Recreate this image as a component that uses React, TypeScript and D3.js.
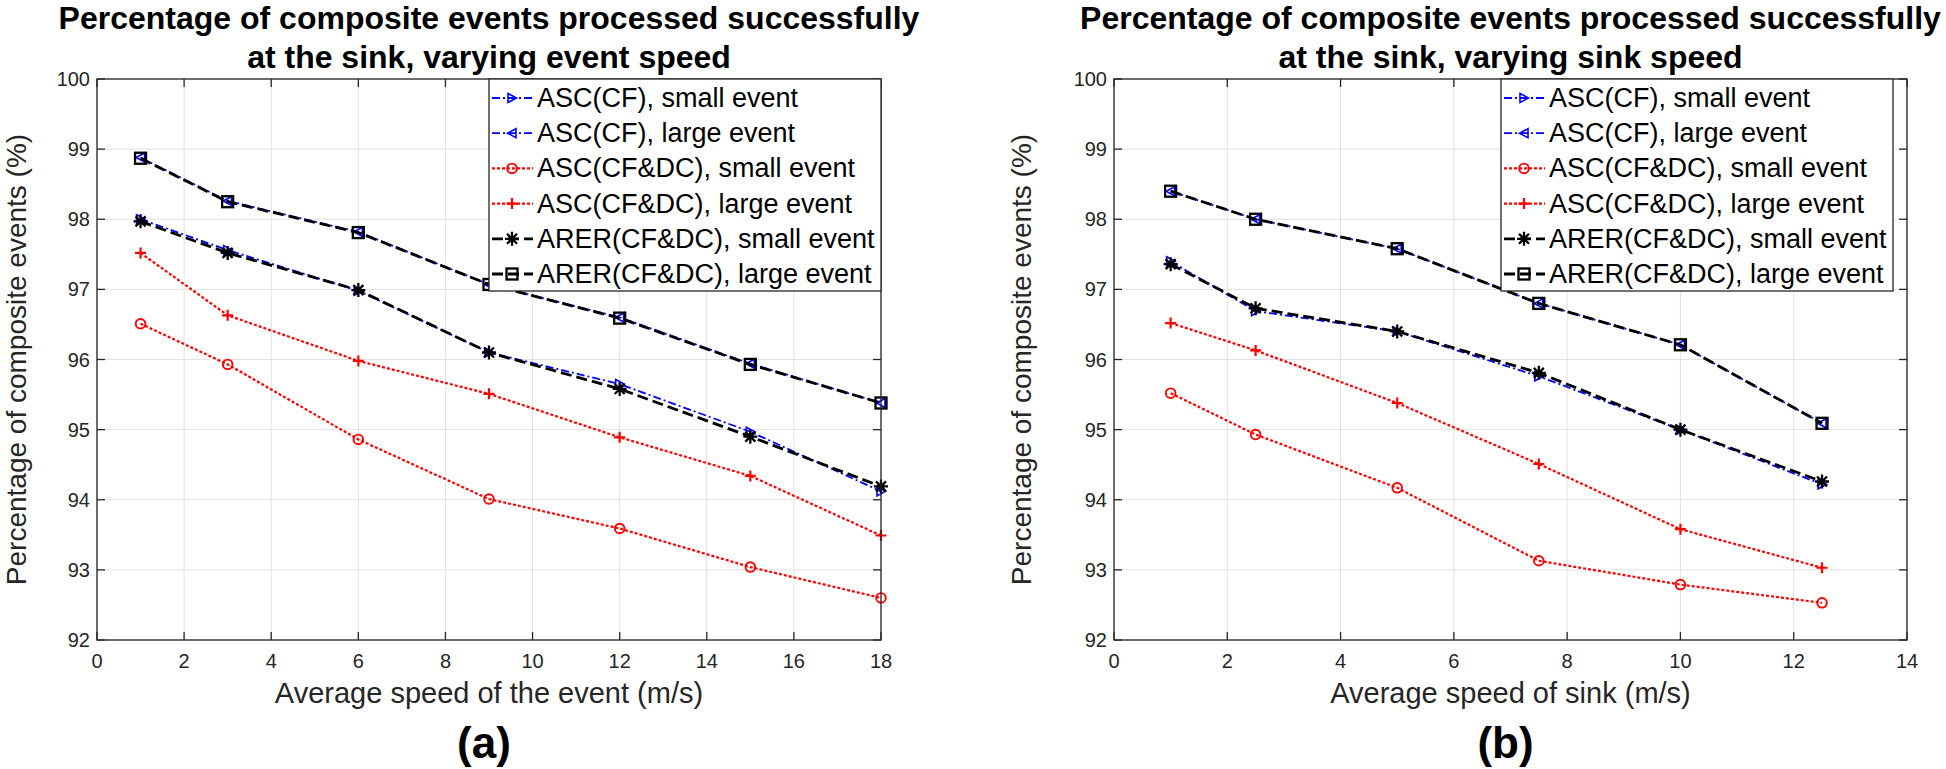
import * as d3 from "d3";

// panel (a): varying event speed
const xEvent = [1, 3, 6, 9, 12, 15, 18];
const cfSmallA = [98.0, 97.56, 96.98, 96.1, 95.65, 94.97, 94.12];
const cfLargeA = [98.88, 98.26, 97.82, 97.07, 96.6, 95.94, 95.38];
const cfdcSmallA = [96.51, 95.93, 94.86, 94.01, 93.59, 93.04, 92.6];
const cfdcLargeA = [97.52, 96.63, 95.98, 95.51, 94.89, 94.34, 93.49];
const arerSmallA = [97.97, 97.52, 96.99, 96.1, 95.58, 94.9, 94.19];
const arerLargeA = [98.87, 98.25, 97.81, 97.07, 96.59, 95.93, 95.38];

// panel (b): varying sink speed
const xSink = [1, 2.5, 5, 7.5, 10, 12.5];
const cfSmallB = [97.4, 96.69, 96.4, 95.76, 95.0, 94.22];
const cfLargeB = [98.4, 98.0, 97.58, 96.8, 96.21, 95.09];
const cfdcSmallB = [95.52, 94.93, 94.17, 93.13, 92.79, 92.53];
const cfdcLargeB = [96.52, 96.13, 95.38, 94.51, 93.58, 93.03];
const arerSmallB = [97.36, 96.73, 96.4, 95.81, 95.0, 94.26];
const arerLargeB = [98.4, 98.0, 97.58, 96.8, 96.21, 95.09];

const yTicks = [92, 93, 94, 95, 96, 97, 98, 99, 100];
const xTicksA = [0, 2, 4, 6, 8, 10, 12, 14, 16, 18];
const xTicksB = [0, 2, 4, 6, 8, 10, 12, 14];

const seriesLabels = [
  "ASC(CF), small event",
  "ASC(CF), large event",
  "ASC(CF&DC), small event",
  "ASC(CF&DC), large event",
  "ARER(CF&DC), small event",
  "ARER(CF&DC), large event",
];

const FONT = "'Liberation Sans', Arial, Helvetica, sans-serif";
const TOP = 79;
const BOTTOM = 640;
const AXIS = "#262626";
const GRID = "#e2e2e2";

type Style = { color: string; dash: string; width: number; marker: string };

const STYLES: Style[] = [
  { color: "#0000ff", dash: "8,3,2,3", width: 1.8, marker: "triRight" },
  { color: "#0000ff", dash: "8,3,2,3", width: 1.8, marker: "triLeft" },
  { color: "#ff0000", dash: "3,2", width: 2.2, marker: "circle" },
  { color: "#ff0000", dash: "3,2", width: 2.2, marker: "plus" },
  { color: "#000000", dash: "11,5", width: 2.8, marker: "star" },
  { color: "#000000", dash: "11,5", width: 2.8, marker: "square" },
];

function Marker({ kind, cx, cy, color }: { kind: string; cx: number; cy: number; color: string }) {
  const t = `translate(${cx},${cy})`;
  if (kind === "triRight")
    return <path transform={t} d="M-4,-4.5L4.5,0L-4,4.5Z" fill="none" stroke={color} strokeWidth={1.6} />;
  if (kind === "triLeft")
    return <path transform={t} d="M4,-4.5L-4.5,0L4,4.5Z" fill="none" stroke={color} strokeWidth={1.6} />;
  if (kind === "circle") return <circle cx={cx} cy={cy} r={4.8} fill="none" stroke={color} strokeWidth={1.9} />;
  if (kind === "plus")
    return <path transform={t} d="M-5.5,0H5.5M0,-5.5V5.5" stroke={color} strokeWidth={2.2} />;
  if (kind === "star")
    return (
      <path
        transform={t}
        d="M-7,0H7M0,-7V7M-5,-5L5,5M-5,5L5,-5"
        stroke={color}
        strokeWidth={2.3}
      />
    );
  return <rect x={cx - 5.5} y={cy - 5.5} width={11} height={11} fill="none" stroke={color} strokeWidth={2.3} />;
}

interface PanelProps {
  x0: number;
  x1: number;
  xMax: number;
  xTicks: number[];
  xs: number[];
  data: number[][];
  title2: string;
  xLabel: string;
  yLabelX: number;
  legendX: number;
  letter: string;
}

function Panel({ x0, x1, xMax, xTicks, xs, data, title2, xLabel, yLabelX, legendX, letter }: PanelProps) {
  const x = d3.scaleLinear().domain([0, xMax]).range([x0, x1]);
  const y = d3.scaleLinear().domain([92, 100]).range([BOTTOM, TOP]);
  const cx = (x0 + x1) / 2;
  const line = d3
    .line<number>()
    .x((_, i) => x(xs[i]))
    .y((d) => y(d));
  const legendW = 392;
  const rowH = 35.2;

  return (
    <g fontFamily={FONT}>
      {/* title */}
      <text x={cx} y={29} textAnchor="middle" fontSize={32} fontWeight="bold" fill="#000">
        Percentage of composite events processed successfully
      </text>
      <text x={cx} y={68} textAnchor="middle" fontSize={32} fontWeight="bold" fill="#000">
        {title2}
      </text>

      {/* grid */}
      {xTicks.map((t) => (
        <line key={"gx" + t} x1={x(t)} x2={x(t)} y1={TOP} y2={BOTTOM} stroke={GRID} strokeWidth={1} />
      ))}
      {yTicks.map((t) => (
        <line key={"gy" + t} x1={x0} x2={x1} y1={y(t)} y2={y(t)} stroke={GRID} strokeWidth={1} />
      ))}

      {/* series */}
      {data.map((vals, si) => {
        const s = STYLES[si];
        return (
          <g key={"s" + si}>
            <path
              d={line(vals) ?? ""}
              fill="none"
              stroke={s.color}
              strokeWidth={s.width}
              strokeDasharray={s.dash}
            />
            {vals.map((v, i) => (
              <Marker key={i} kind={s.marker} cx={x(xs[i])} cy={y(v)} color={s.color} />
            ))}
          </g>
        );
      })}

      {/* axes box and ticks */}
      <rect x={x0} y={TOP} width={x1 - x0} height={BOTTOM - TOP} fill="none" stroke={AXIS} strokeWidth={1.3} />
      {xTicks.map((t) => (
        <g key={"tx" + t}>
          <line x1={x(t)} x2={x(t)} y1={BOTTOM} y2={BOTTOM - 8} stroke={AXIS} strokeWidth={1.3} />
          <line x1={x(t)} x2={x(t)} y1={TOP} y2={TOP + 8} stroke={AXIS} strokeWidth={1.3} />
          <text x={x(t)} y={668} textAnchor="middle" fontSize={20} fill={AXIS}>
            {t}
          </text>
        </g>
      ))}
      {yTicks.map((t) => (
        <g key={"ty" + t}>
          <line x1={x0} x2={x0 + 8} y1={y(t)} y2={y(t)} stroke={AXIS} strokeWidth={1.3} />
          <line x1={x1} x2={x1 - 8} y1={y(t)} y2={y(t)} stroke={AXIS} strokeWidth={1.3} />
          <text x={x0 - 7} y={y(t) + 7} textAnchor="end" fontSize={20} fill={AXIS}>
            {t}
          </text>
        </g>
      ))}

      {/* axis labels */}
      <text x={cx} y={703} textAnchor="middle" fontSize={29} fill={AXIS}>
        {xLabel}
      </text>
      <text
        transform={`translate(${yLabelX},${(TOP + BOTTOM) / 2}) rotate(-90)`}
        textAnchor="middle"
        dy={10}
        fontSize={28}
        fill={AXIS}
      >
        Percentage of composite events (%)
      </text>

      {/* panel letter */}
      <text x={cx - 5} y={758} textAnchor="middle" fontSize={44} fontWeight="bold" fill="#000">
        {letter}
      </text>

      {/* legend */}
      <rect x={legendX} y={TOP} width={legendW} height={212} fill="#fff" stroke={AXIS} strokeWidth={1.3} />
      {seriesLabels.map((lab, i) => {
        const s = STYLES[i];
        const ry = TOP + 19 + i * rowH;
        return (
          <g key={"lg" + i}>
            <line
              x1={legendX + 3}
              x2={legendX + 44}
              y1={ry}
              y2={ry}
              stroke={s.color}
              strokeWidth={s.width}
              strokeDasharray={s.dash}
            />
            <Marker kind={s.marker} cx={legendX + 23} cy={ry} color={s.color} />
            <text x={legendX + 48} y={ry + 9} fontSize={27} fill="#000">
              {lab}
            </text>
          </g>
        );
      })}
    </g>
  );
}

export default function App() {
  return (
    <svg
      width={1946}
      height={769}
      style={{ position: "absolute", left: 0, top: 0, background: "#fff" }}
    >
      <rect width={1946} height={769} fill="#fff" />
      <Panel
        x0={97}
        x1={881}
        xMax={18}
        xTicks={xTicksA}
        xs={xEvent}
        data={[cfSmallA, cfLargeA, cfdcSmallA, cfdcLargeA, arerSmallA, arerLargeA]}
        title2="at the sink, varying event speed"
        xLabel="Average speed of the event (m/s)"
        yLabelX={16}
        legendX={489}
        letter="(a)"
      />
      <Panel
        x0={1114}
        x1={1907}
        xMax={14}
        xTicks={xTicksB}
        xs={xSink}
        data={[cfSmallB, cfLargeB, cfdcSmallB, cfdcLargeB, arerSmallB, arerLargeB]}
        title2="at the sink, varying sink speed"
        xLabel="Average speed of sink (m/s)"
        yLabelX={1021}
        legendX={1501}
        letter="(b)"
      />
    </svg>
  );
}
